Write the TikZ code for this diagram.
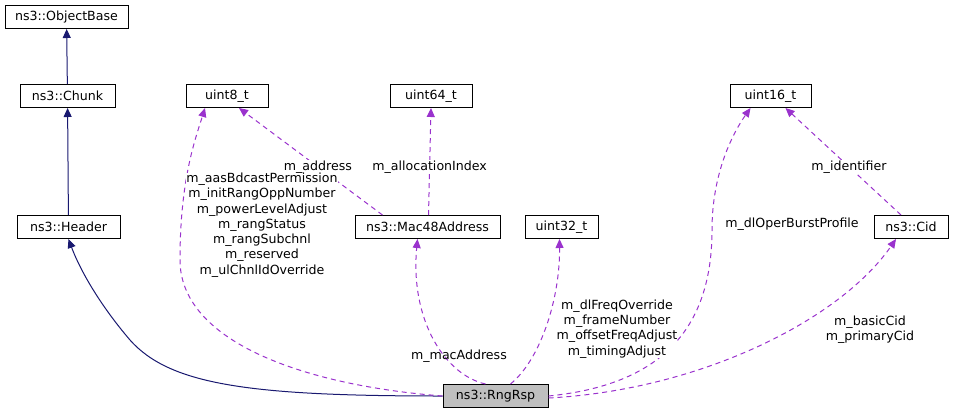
\documentclass[tikz,border=0pt]{standalone}
\usepackage{fontspec}
\setmainfont{DejaVu Sans}
\usetikzlibrary{arrows.meta}
\definecolor{inhcol}{HTML}{191970}
\definecolor{usecol}{HTML}{9A32CD}
\begin{document}
\begin{tikzpicture}
          [x=1pt,y=-1pt,font=\fontsize{12.6}{14.5}\selectfont,line width=1pt,
          cls/.style={shape=rectangle,draw=black,fill=white,text=black,inner sep=0pt,minimum height=23pt},
          inh/.style={-{Triangle[length=9pt,width=8pt,fill=inhcol]},draw=inhcol},
          use/.style={-{Triangle[length=9pt,width=8pt,fill=usecol]},draw=usecol,dash pattern=on 5pt off 4pt},
          lbl/.style={align=center,inner sep=0pt,font=\fontsize{12.6}{15.3}\selectfont}]
          \useasboundingbox (0,0) rectangle (955,416);

            \node (objbase) [cls,minimum width=123pt] at (66.5,17) {ns3::ObjectBase};
            \node (chunk) [cls,minimum width=95pt] at (67.5,96) {ns3::Chunk};
            \node (header) [cls,minimum width=103pt] at (68.5,227) {ns3::Header};
            \node (uinteight) [cls,minimum width=82pt] at (227,96) {uint8\_t};
            \node (uintsixtyfour) [cls,minimum width=82pt] at (431,96) {uint64\_t};
            \node (uintsixteen) [cls,minimum width=81pt] at (770.5,96) {uint16\_t};
            \node (mac) [cls,minimum width=145pt] at (427.5,227) {ns3::Mac48Address};
            \node (uintthirtytwo) [cls,minimum width=73pt] at (561.5,227) {uint32\_t};
            \node (cid) [cls,minimum width=74pt] at (911,227) {ns3::Cid};
            \node (rngrsp) [cls,minimum width=105pt,fill=black!25] at (495.5,396) {ns3::RngRsp};

          \draw [inh] (chunk) to (objbase);
            \draw [inh] (header) to (chunk);
            \draw [inh] (rngrsp.west) .. controls (250,396) and (170,385) .. (130,340) .. controls (100,305) and (80,270) .. (header.south);

          \draw [use] (rngrsp.west) .. controls (300,385) and (180,340) .. (180,260) .. controls (180,180) and (195,140) .. ([xshift=-22pt]uinteight.south);
            \draw [use] ([xshift=-45pt]mac.north) to node [pos=0.45,fill=white,inner sep=1pt] {m\_address} ([xshift=12pt]uinteight.south);
            \draw [use] ([xshift=1pt]mac.north) to node [pos=0.45,fill=white,inner sep=1pt] {m\_allocationIndex} (uintsixtyfour.south);
            \draw [use] ([xshift=-10pt]rngrsp.north) .. controls (445,375) and (410,320) .. ([xshift=-10pt]mac.south);
            \draw [use] ([xshift=15pt]rngrsp.north) .. controls (540,360) and (560,300) .. ([xshift=-2pt]uintthirtytwo.south);
            \draw [use] ([xshift=0pt]rngrsp.east) .. controls (660,385) and (712,330) .. (712,230) .. controls (712,170) and (735,130) .. ([xshift=-20pt]uintsixteen.south);
            \draw [use] ([xshift=-10pt]cid.north) to node [pos=0.45,fill=white,inner sep=1pt] {m\_identifier} ([xshift=15pt]uintsixteen.south);
            \draw [use] ([yshift=-2pt]rngrsp.east) .. controls (700,390) and (840,320) .. ([xshift=-15pt]cid.south);

          \node (lbluinteight) [lbl,fill=white] at (262,225) {m\_aasBdcastPermission\\m\_initRangOppNumber\\m\_powerLevelAdjust\\m\_rangStatus\\m\_rangSubchnl\\m\_reserved\\m\_ulChnlIdOverride};
            \node (lblmac) [lbl] at (459,356) {m\_macAddress};
            \node (lblthirtytwo) [lbl,fill=white] at (617,329) {m\_dlFreqOverride\\m\_frameNumber\\m\_offsetFreqAdjust\\m\_timingAdjust};
            \node (lblsixteen) [lbl,fill=white,inner sep=1pt] at (792,224) {m\_dlOperBurstProfile};
            \node (lblcid) [lbl] at (870,330) {m\_basicCid\\m\_primaryCid};
        \end{tikzpicture}
\end{document}
